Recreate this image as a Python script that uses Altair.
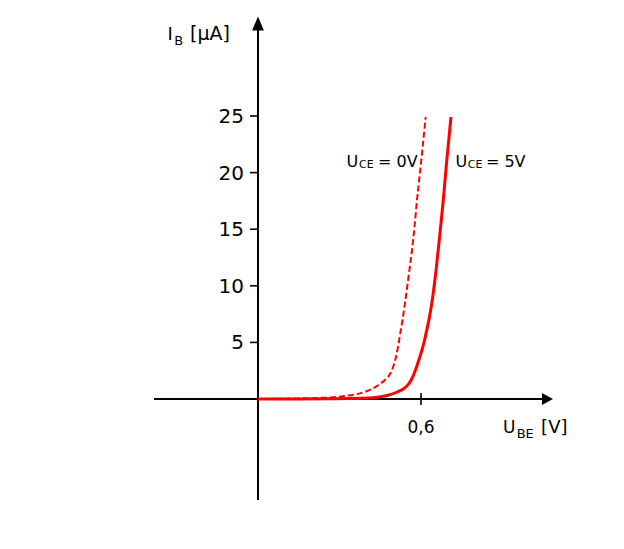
import altair as alt
import pandas as pd

# ---- data (U_BE in V, I_B in µA) ----
ube_5v = [0, 0.265, 0.375, 0.4306, 0.4785, 0.5153, 0.5374, 0.5558, 0.5687, 0.5797, 0.5944, 0.6036,
          0.6132, 0.6213, 0.6290, 0.6415, 0.6555, 0.6710, 0.6820, 0.6949, 0.7103]
ib_5v = [0, 0.03, 0.07, 0.14, 0.33, 0.64, 0.93, 1.37, 1.90, 2.56, 3.62, 4.33,
         5.21, 6.10, 6.98, 8.75, 11.40, 14.93, 17.58, 21.11, 24.91]
ube_0v = [0, 0.265, 0.320, 0.375, 0.412, 0.449, 0.471, 0.486, 0.4987, 0.5079, 0.5153, 0.5238,
          0.5319, 0.5411, 0.5540, 0.5668, 0.5767, 0.5852, 0.5933, 0.6010, 0.6172]
ib_0v = [0, 0.13, 0.27, 0.50, 0.80, 1.33, 1.77, 2.21, 2.92, 3.71, 4.59, 5.83,
         6.98, 8.48, 10.78, 13.16, 15.37, 17.58, 19.35, 21.11, 24.91]

y_ticks = [5, 10, 15, 20, 25]
y_tick_labels = ["5", "10", "15", "20", "25"]
x_ticks = [0.6]
x_tick_labels = ["0,6"]

X_DOMAIN = [-0.9201, 1.2882]
Y_DOMAIN = [-11.837, 34.541]
FONT = "DejaVu Sans"

xs = alt.Scale(domain=X_DOMAIN, nice=False, zero=False)
ys = alt.Scale(domain=Y_DOMAIN, nice=False, zero=False)

def X(f="x"):
    return alt.X(f"{f}:Q", scale=xs, axis=None)

def Y(f="y"):
    return alt.Y(f"{f}:Q", scale=ys, axis=None)

# axes lines
axes_df = pd.DataFrame({
    "x": [-0.3828, 0.0],
    "x2": [1.0563, 0.0],
    "y": [0.0, -8.92],
    "y2": [0.0, 32.77],
})
axes = alt.Chart(axes_df).mark_rule(color="black", strokeWidth=2).encode(
    x=X(), x2="x2:Q", y=Y(), y2="y2:Q"
)

# tick marks
tick_df = pd.DataFrame({
    "x": [-0.0294] * len(y_ticks) + x_ticks,
    "x2": [0.0] * len(y_ticks) + x_ticks,
    "y": y_ticks + [0.53],
    "y2": y_ticks + [-0.53],
})
ticks = alt.Chart(tick_df).mark_rule(color="black", strokeWidth=1.6).encode(
    x=X(), x2="x2:Q", y=Y(), y2="y2:Q"
)

# arrow heads
yarrow = alt.Chart(pd.DataFrame({"x": [0.0], "y": [33.79]})).mark_point(
    shape="M0,0L-0.84,2L0.84,2Z", size=196, filled=True, color="black", opacity=1, strokeWidth=0
).encode(x=X(), y=Y())
xarrow = alt.Chart(pd.DataFrame({"x": [1.0857], "y": [0.0]})).mark_point(
    shape="M0,0L-2,-1.1L-2,1.1Z", size=121, filled=True, color="black", opacity=1, strokeWidth=0
).encode(x=X(), y=Y())

# tick labels
ylab = alt.Chart(pd.DataFrame({"x": [-0.0515] * len(y_ticks), "y": y_ticks, "t": y_tick_labels})).mark_text(
    align="right", baseline="alphabetic", dy=7, font=FONT, fontSize=20, color="black"
).encode(x=X(), y=Y(), text="t:N")
xlab = alt.Chart(pd.DataFrame({"x": x_ticks, "y": [-2.98], "t": x_tick_labels})).mark_text(
    align="center", baseline="alphabetic", font=FONT, fontSize=17, color="black"
).encode(x=X(), y=Y(), text="t:N")

# annotation texts (axis titles and curve labels), positions in data units
ann_text = ["I", "B", "[µA]",
            "U", "CE", "= 0V",
            "U", "CE", "= 5V",
            "U", "BE", "[V]"]
ann_x = [-0.333, -0.308, -0.250,
         0.326, 0.372, 0.442,
         0.727, 0.772, 0.839,
         0.902, 0.952, 1.042]
ann_y = [31.71, 31.27, 31.71,
         20.49, 20.38, 20.49,
         20.49, 20.38, 20.49,
         -3.03, -3.47, -3.03]
ann_size = [18, 13, 19,
            16, 11, 16,
            16, 11, 16,
            17, 13, 18]


def text_layer(i):
    d = pd.DataFrame({"x": [ann_x[i]], "y": [ann_y[i]], "t": [ann_text[i]]})
    return alt.Chart(d).mark_text(
        align="left", baseline="alphabetic", font=FONT, fontSize=ann_size[i], color="black"
    ).encode(x=X(), y=Y(), text="t:N")


ann_layers = [text_layer(i) for i in range(len(ann_text))]

# curves
df5 = pd.DataFrame({"x": ube_5v, "y": ib_5v})
df0 = pd.DataFrame({"x": ube_0v, "y": ib_0v})
curve5 = alt.Chart(df5).mark_line(color="#ff0000", strokeWidth=3, interpolate="monotone").encode(
    x=X(), y=Y(), order="x:Q"
)
curve0 = alt.Chart(df0).mark_line(color="#ff0000", strokeWidth=2, strokeDash=[6, 3], interpolate="monotone").encode(
    x=X(), y=Y(), order="x:Q"
)

chart = alt.layer(axes, ticks, yarrow, xarrow, ylab, xlab, *ann_layers, curve0, curve5).properties(
    width=600, height=525, padding=0, autosize=alt.AutoSizeParams(type="none")
).configure_view(strokeOpacity=0)

chart.save("out.html", embed_options={"renderer": "svg", "actions": False})
